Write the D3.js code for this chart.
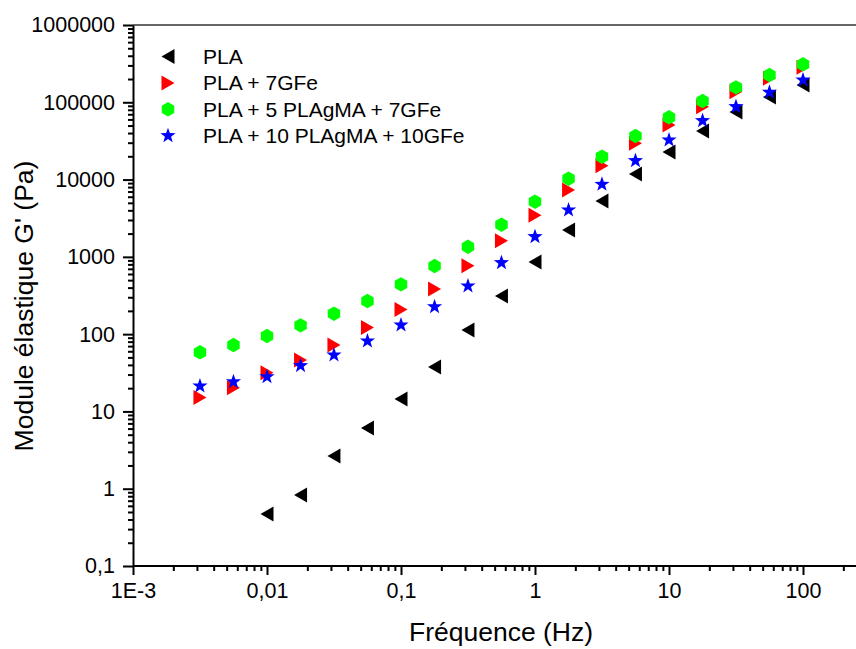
<!DOCTYPE html>
<html><head><meta charset="utf-8">
<script src="https://cdn.jsdelivr.net/npm/d3@7"></script>
<style>
html,body{margin:0;padding:0;background:#fff;}
svg{display:block;font-family:"Liberation Sans",Arial,sans-serif;}
</style></head>
<body><svg id="c" width="856" height="649"></svg>
<script>
// ---- data ----
const freq = [0.00316, 0.00562, 0.01, 0.0178, 0.0316, 0.0562, 0.1, 0.178, 0.316, 0.562, 1, 1.78, 3.16, 5.62, 10, 17.8, 31.6, 56.2, 100];
const freqPLA = [0.01, 0.0178, 0.0316, 0.0562, 0.1, 0.178, 0.316, 0.562, 1, 1.78, 3.16, 5.62, 10, 17.8, 31.6, 56.2, 100];
const seriesNames = ["PLA", "PLA + 7GFe", "PLA + 5 PLAgMA + 7GFe", "PLA + 10 PLAgMA + 10GFe"];
const pla = [0.47, 0.83, 2.65, 6.1, 14.5, 37.6, 113, 311, 858, 2225, 5280, 11800, 22700, 42500, 74800, 117000, 167000];
const pla7 = [15.1, 20.3, 31.7, 46.3, 72.3, 122, 209, 384, 769, 1618, 3445, 7330, 15100, 29400, 50800, 87700, 137000, 204000, 283000];
const pla5 = [58.2, 72.3, 94.6, 130, 184, 268, 441, 761, 1352, 2606, 5170, 10260, 19770, 36600, 63900, 103800, 156000, 225000, 310000];
const pla10 = [21.3, 24.2, 28.1, 39.1, 53.7, 81.5, 131, 226, 420, 840, 1823, 4036, 8670, 17540, 32500, 57800, 87700, 134500, 194000];
const xTicks = [1e-3, 0.01, 0.1, 1, 10, 100];
const xTickLabels = ["1E-3", "0,01", "0,1", "1", "10", "100"];
const yTicks = [0.1, 1, 10, 100, 1000, 10000, 100000, 1000000];
const yTickLabels = ["0,1", "1", "10", "100", "1000", "10000", "100000", "1000000"];
const xTitle = "Fréquence (Hz)";
const yTitle = "Module élastique G' (Pa)";

// ---- layout ----
const svg = d3.select("#c");
const FONT = "Liberation Sans, Arial, sans-serif";
const x0 = 133, yBot = 566, yTop = 25, pxPerDec = 134;
const x = d3.scaleLog().domain([1e-3, 300]).range([x0, x0 + pxPerDec * Math.log10(300 / 1e-3)]);
const y = d3.scaleLog().domain([0.1, 1e6]).range([yBot, yTop]);

function minors(lo, hi) {
  const out = [];
  for (let e = Math.floor(Math.log10(lo)); e <= Math.ceil(Math.log10(hi)); e++)
    for (let m = 2; m <= 9; m++) { const v = m * Math.pow(10, e); if (v > lo && v < hi) out.push(v); }
  return out;
}

const fontTick = 21.5;
// top frame line
svg.append("line").attr("x1", x0).attr("x2", 856).attr("y1", yTop).attr("y2", yTop)
  .attr("stroke", "#333").attr("stroke-width", 1.5);

// x axis
const gx = svg.append("g").attr("transform", `translate(0,${yBot})`);
gx.call(d3.axisBottom(x).tickValues(minors(1e-3, 300)).tickSize(5).tickSizeOuter(0).tickFormat(""));
gx.call(g => g.select(".domain").remove());
const gx2 = svg.append("g").attr("transform", `translate(0,${yBot})`);
gx2.call(d3.axisBottom(x).tickValues(xTicks).tickSize(9).tickSizeOuter(0).tickPadding(8)
  .tickFormat((d, i) => xTickLabels[i]));
gx2.select(".domain").attr("d", `M${x0},0H900`);
[gx, gx2].forEach(g => {
  g.attr("font-family", FONT);
  g.selectAll("line").attr("stroke", "#000").attr("stroke-width", 2);
  g.selectAll(".domain").attr("stroke", "#000").attr("stroke-width", 2);
  g.selectAll("text").attr("font-size", fontTick).attr("fill", "#000").attr("font-family", FONT);
});

// y axis
const gy = svg.append("g").attr("transform", `translate(${x0},0)`);
gy.call(d3.axisLeft(y).tickValues(minors(0.1, 1e6)).tickSize(5).tickSizeOuter(0).tickFormat(""));
gy.call(g => g.select(".domain").remove());
const gy2 = svg.append("g").attr("transform", `translate(${x0},0)`);
gy2.call(d3.axisLeft(y).tickValues(yTicks).tickSize(10).tickSizeOuter(0).tickPadding(8)
  .tickFormat((d, i) => yTickLabels[i]));
[gy, gy2].forEach(g => {
  g.attr("font-family", FONT);
  g.selectAll("line").attr("stroke", "#000").attr("stroke-width", 2);
  g.selectAll(".domain").attr("stroke", "#000").attr("stroke-width", 2);
  g.selectAll("text").attr("font-size", fontTick).attr("fill", "#000").attr("font-family", FONT);
});

// titles
svg.append("text").attr("x", 501).attr("y", 641).attr("text-anchor", "middle")
  .attr("font-size", 26.5).attr("font-family", FONT).text(xTitle);
svg.append("text").attr("transform", "translate(33,306) rotate(-90)").attr("text-anchor", "middle")
  .attr("font-size", 26.5).attr("font-family", FONT).text(yTitle);

// marker shapes
const hex = d3.range(6).map(i => { const a = (-90 + 60 * i) * Math.PI / 180; return [7.2 * Math.cos(a), 7.2 * Math.sin(a)]; });
const star = d3.range(10).map(i => { const a = (-90 + 36 * i) * Math.PI / 180, r = i % 2 ? 3.2 : 8; return [r * Math.cos(a), r * Math.sin(a)]; });
const poly = pts => "M" + pts.map(p => p.join(",")).join("L") + "Z";
const shapes = [
  "M-6.5,0L6.5,-7.5L6.5,7.5Z",
  "M6.5,0L-6.5,-7.5L-6.5,7.5Z",
  poly(hex),
  poly(star)
];
const colors = ["#000000", "#ff0000", "#00ff00", "#0000ff"];
const series = [
  { xs: freqPLA, ys: pla },
  { xs: freq, ys: pla7 },
  { xs: freq, ys: pla5 },
  { xs: freq, ys: pla10 }
];

series.forEach((s, k) => {
  svg.append("g").selectAll("path").data(s.ys).join("path")
    .attr("d", shapes[k]).attr("fill", colors[k])
    .attr("transform", (v, i) => `translate(${x(s.xs[i])},${y(v)})`);
});

// legend
const legY = [56.5, 83, 109.3, 135.7];
const leg = svg.append("g");
seriesNames.forEach((n, k) => {
  leg.append("path").attr("d", shapes[k]).attr("fill", colors[k])
    .attr("transform", `translate(168,${legY[k]})`);
  leg.append("text").attr("x", 203).attr("y", legY[k]).attr("dy", "0.35em")
    .attr("font-size", 21).attr("font-family", FONT).text(n);
});
</script></body></html>
